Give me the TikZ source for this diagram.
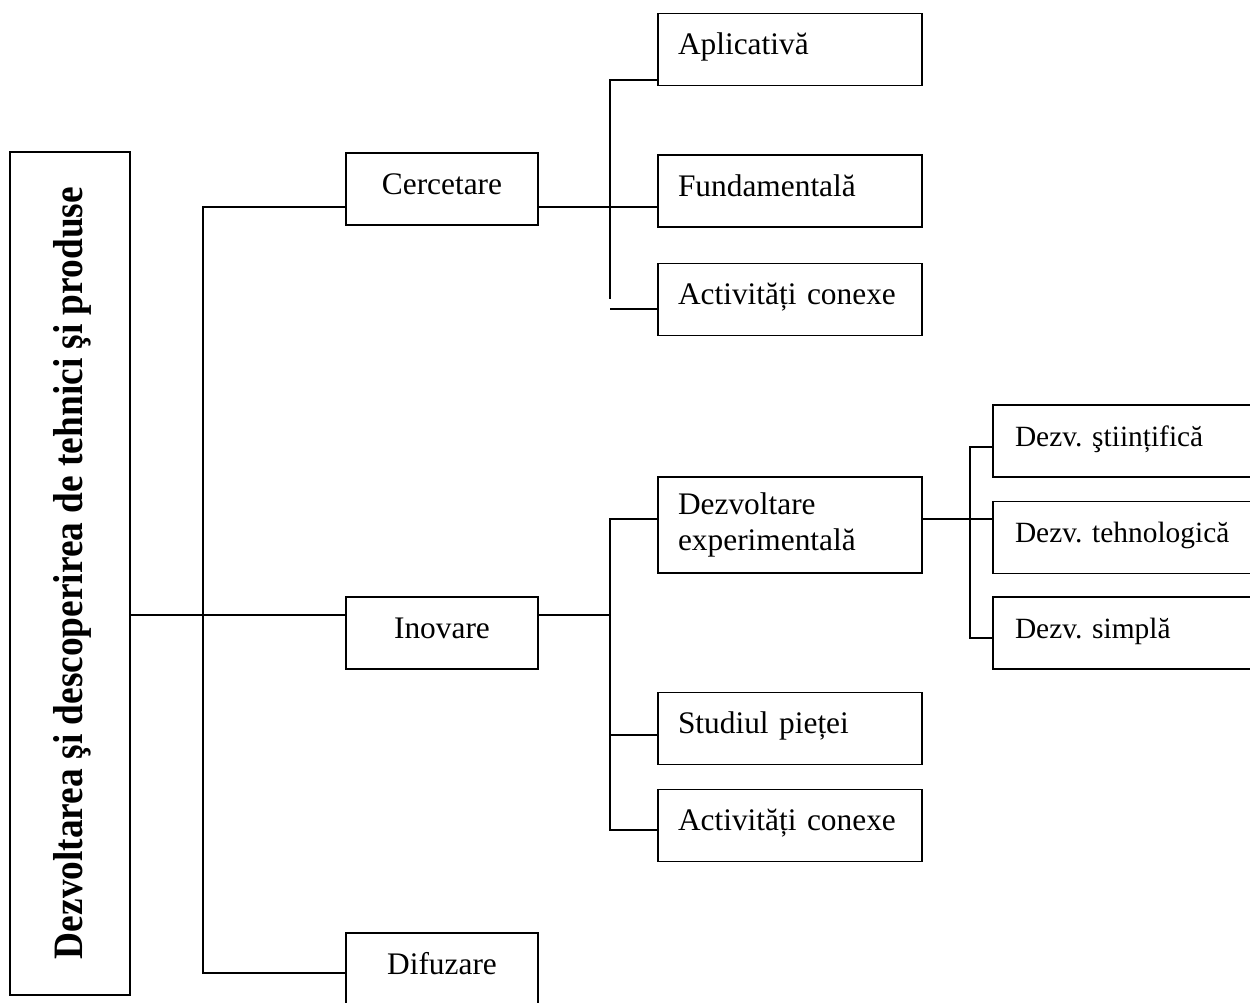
\documentclass[tikz,border=0pt]{standalone}
\usepackage{graphicx}
\usepackage{fontspec}
\setmainfont{Liberation Serif}
\frenchspacing
\begin{document}
\begin{tikzpicture}[x=1bp,y=-1bp,
  every node/.style={font=\fontsize{31.5}{37}\selectfont},
  frame/.style={draw,line width=1.9bp,inner sep=0pt},
  cbox/.style={frame,minimum width=192bp,minimum height=72bp,align=center,
    text height=21bp,text depth=11bp},
  lbox/.style={frame,minimum height=72bp,text width=224bp,inner xsep=20bp,align=left},
  one/.style={text height=21bp,text depth=11bp},
  dbox/.style={frame,minimum height=72bp,text width=250bp,inner xsep=22bp,align=left,
    font=\fontsize{29.5}{35}\selectfont,text height=20bp,text depth=10bp},
  link/.style={line width=1.9bp}]
\useasboundingbox (0,0) rectangle (1250,1003);
\clip (0,0) rectangle (1250,1003);

% root box with vertical title
\node[frame,minimum width=120bp,minimum height=843bp] (main) at (70,573.5) {};
\node[rotate=90,font=\fontsize{37.5}{40}\selectfont\bfseries] (title) at (72,573)
  {\scalebox{1}[1.12]{Dezvoltarea şi descoperirea de tehnici şi produse}};

% second level
\node[cbox] (cerc) at (442,189) {Cercetare};
\node[cbox] (inov) at (442,633) {Inovare};
\node[cbox] (dif)  at (442,969) {Difuzare};

% research branch
\node[lbox,one] (apl)  at (790,49.5)  {Aplicativă};
\node[lbox,one] (fund) at (790,191)   {Fundamentală};
\node[lbox,one] (act1) at (790,299.5) {Activități conexe};

% innovation branch
\node[lbox,minimum height=96bp] (dex) at (790,525) {Dezvoltare\\experimentală};
\node[lbox,one] (stud) at (790,728.5) {Studiul pieței};
\node[lbox,one] (act2) at (790,825.5) {Activități conexe};

% experimental development branch
\node[dbox] (sti) at (1140,441)   {Dezv. ştiințifică};
\node[dbox] (teh) at (1140,537.5) {Dezv. tehnologică};
\node[dbox] (sim) at (1140,633)   {Dezv. simplă};

% junction points
\coordinate (bT) at (203,207);
\coordinate (bB) at (203,973);
\coordinate (jI) at (203,615);
\coordinate (c1) at (610,80);
\coordinate (c2) at (610,299);
\coordinate (c3) at (610,309);
\coordinate (cm) at (610,207);
\coordinate (i1) at (610,519);
\coordinate (i2) at (610,830);
\coordinate (i3) at (610,735);
\coordinate (im) at (610,615);
\coordinate (d1) at (970,447);
\coordinate (d2) at (970,638);
\coordinate (dm) at (970,519);

% root to second level
\draw[link] (jI -| main.east) -- (jI -| inov.west);
\draw[link] (bT -| cerc.west) -- (bT) -- (bB) -- (bB -| dif.west);

% research connectors
\draw[link] (c1 -| apl.west) -- (c1) -- (c2);
\draw[link] (cm -| cerc.east) -- (cm -| fund.west);
\draw[link] (c3) -- (c3 -| act1.west);

% innovation connectors
\draw[link] (i1 -| dex.west) -- (i1) -- (i2) -- (i2 -| act2.west);
\draw[link] (im -| inov.east) -- (im);
\draw[link] (i3) -- (i3 -| stud.west);

% experimental development connectors
\draw[link] (d1 -| sti.west) -- (d1) -- (d2) -- (d2 -| sim.west);
\draw[link] (dm -| dex.east) -- (dm -| teh.west);
\end{tikzpicture}
\end{document}
